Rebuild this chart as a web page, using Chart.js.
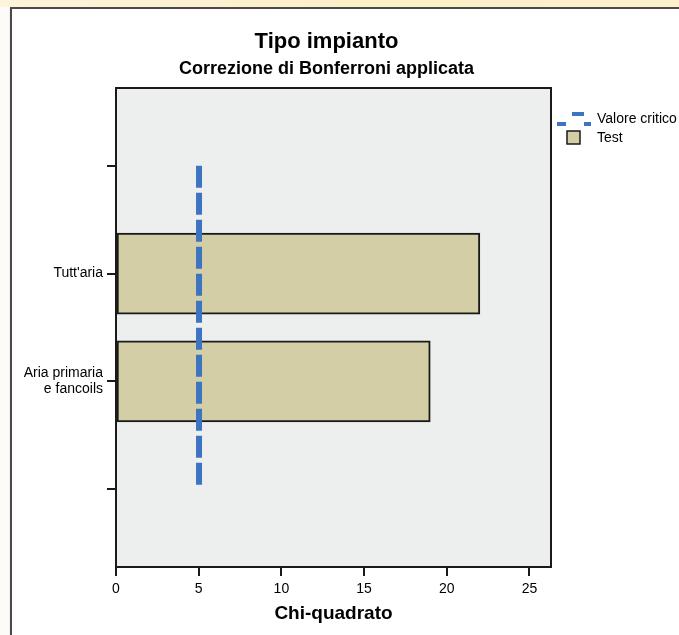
<!DOCTYPE html>
<html lang="it">
<head>
<meta charset="utf-8">
<title>Tipo impianto</title>
<script src="https://cdn.jsdelivr.net/npm/chart.js@4.4.1/dist/chart.umd.min.js"></script>
<style>
  html, body { margin: 0; padding: 0; width: 679px; height: 635px; overflow: hidden; background: #fdfbf7; }
  .topbar { position: absolute; left: 0; top: 0; width: 679px; height: 7px;
            background: linear-gradient(90deg, #fdf4da, #fdeec6 55%, #fcf0cc); }
  .frame { position: absolute; left: 10px; top: 7px; width: 720px; height: 700px; background: #fff;
           border-left: 2px solid #4a4a4a; border-top: 2px solid #4a4a4a; box-shadow: 0 1px 1px #aaa; }
  #chart { position: absolute; left: 0; top: 0; }
</style>
</head>
<body>
<div class="topbar"></div>
<div class="frame"></div>
<canvas id="chart" width="679" height="635"></canvas>
<script>
// data
const categories = ["Tutt'aria", ['Aria primaria', 'e fancoils']];
const categoryPos = [2, 1];
const testValues = [22, 19];
const criticalValue = 5.02;
const criticalSpan = [3, 0];
const xTicks = [0, 5, 10, 15, 20, 25];
const yTicks = [0, 1, 2, 3];

const FONT = '"Liberation Sans", Arial, Helvetica, sans-serif';
const INK = '#1a1a1a';
const BAR_FILL = '#d3cea6';
const BLUE = '#3d74c1';

// background + border of the plot area
const plotFrame = {
  id: 'plotFrame',
  beforeDraw(chart) {
    const { ctx, chartArea: a } = chart;
    ctx.save();
    ctx.fillStyle = '#edeeee';
    ctx.fillRect(a.left, a.top, a.right - a.left, a.bottom - a.top);
    ctx.restore();
  },
  afterDraw(chart) {
    const { ctx, chartArea: a } = chart;
    ctx.save();
    ctx.strokeStyle = INK;
    ctx.lineWidth = 2;
    ctx.strokeRect(a.left, a.top, a.right - a.left, a.bottom - a.top);
    ctx.restore();
  }
};

// titles and legend, SPSS style
const decorations = {
  id: 'decorations',
  afterDraw(chart) {
    const { ctx, chartArea: a } = chart;
    const cx = (a.left + a.right) / 2 - 7;
    ctx.save();
    ctx.fillStyle = '#000';
    ctx.textAlign = 'center';
    ctx.textBaseline = 'alphabetic';
    ctx.font = 'bold 22px ' + FONT;
    ctx.fillText('Tipo impianto', cx, 48);
    ctx.font = 'bold 18px ' + FONT;
    ctx.fillText('Correzione di Bonferroni applicata', cx, 74);

    // legend
    const lx = a.right + 6;
    ctx.fillStyle = BLUE;
    ctx.fillRect(lx, 122, 9, 4);
    ctx.fillRect(lx + 15, 112, 12, 4);
    ctx.fillRect(lx + 27, 122, 7, 4);
    ctx.fillStyle = BAR_FILL;
    ctx.fillRect(lx + 10, 131, 13, 13);
    ctx.strokeStyle = INK;
    ctx.lineWidth = 1.5;
    ctx.strokeRect(lx + 10, 131, 13, 13);

    ctx.fillStyle = '#000';
    ctx.textAlign = 'left';
    ctx.textBaseline = 'middle';
    ctx.font = '14px ' + FONT;
    ctx.fillText('Valore critico', lx + 40, 119);
    ctx.fillText('Test', lx + 40, 138);
    ctx.restore();
  }
};

new Chart(document.getElementById('chart'), {
  type: 'bar',
  data: {
    datasets: [
      {
        type: 'line',
        label: 'Valore critico',
        data: criticalSpan.map(y => ({ x: criticalValue, y })),
        borderColor: BLUE,
        borderWidth: 6,
        borderDash: [22, 5],
        borderCapStyle: 'butt',
        pointRadius: 0,
        fill: false,
        order: 0
      },
      {
        type: 'bar',
        label: 'Test',
        data: testValues.map((v, i) => ({ x: v, y: categoryPos[i] })),
        backgroundColor: BAR_FILL,
        borderColor: INK,
        borderWidth: 2,
        borderSkipped: false,
        barThickness: 81,
        order: 1
      }
    ]
  },
  options: {
    indexAxis: 'y',
    responsive: false,
    animation: false,
    devicePixelRatio: 1,
    layout: { padding: { left: 0, top: 88, right: 128, bottom: 0 } },
    plugins: {
      legend: { display: false },
      title: { display: false },
      tooltip: { enabled: false }
    },
    scales: {
      x: {
        type: 'linear',
        min: 0,
        max: 26.3,
        afterBuildTicks: s => { s.ticks = xTicks.map(v => ({ value: v })); },
        afterFit: s => { s.height = 68; },
        border: { display: true, color: INK, width: 2 },
        grid: { drawOnChartArea: false, drawTicks: true, tickLength: 9, color: INK, lineWidth: 2 },
        ticks: { color: '#000', padding: 5, maxRotation: 0, font: { family: FONT, size: 14 } },
        title: {
          display: true,
          text: 'Chi-quadrato',
          color: '#000',
          font: { family: FONT, size: 19, weight: 'bold' },
          padding: { top: 0, bottom: 10 }
        }
      },
      y: {
        type: 'linear',
        min: -0.72,
        max: 3.72,
        offset: false,
        afterBuildTicks: s => { s.ticks = yTicks.map(v => ({ value: v })); },
        afterFit: s => { s.width = 116; },
        border: { display: true, color: INK, width: 2 },
        grid: { offset: false, drawOnChartArea: false, drawTicks: true, tickLength: 9, color: INK, lineWidth: 2 },
        ticks: {
          color: '#000',
          padding: 4,
          font: { family: FONT, size: 14, lineHeight: 1.15 },
          callback: v => {
            const i = categoryPos.indexOf(v);
            return i >= 0 ? categories[i] : '';
          }
        }
      }
    }
  },
  plugins: [plotFrame, decorations]
});
</script>
</body>
</html>
